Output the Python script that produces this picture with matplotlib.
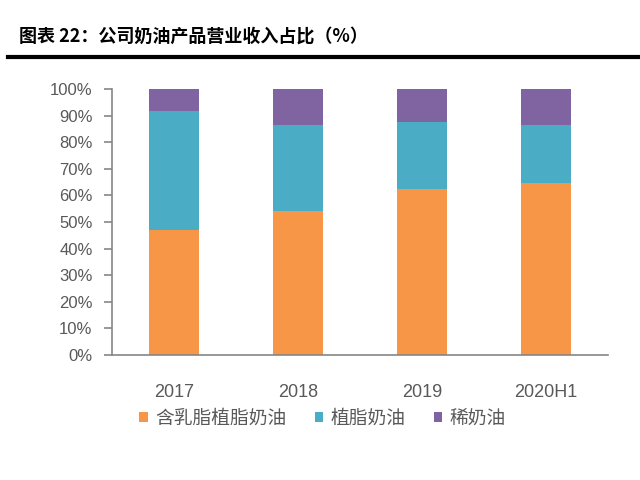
"""Stacked share of cream product revenue, 2017-2020H1."""
import matplotlib
matplotlib.use("Agg")
import matplotlib.pyplot as plt
import numpy as np

plt.rcParams["font.family"] = ["Noto Sans CJK SC", "DejaVu Sans"]

years = ["2017", "2018", "2019", "2020H1"]
series_names = ["含乳脂植脂奶油", "植脂奶油", "稀奶油"]
dairy_blend = [47.0, 54.0, 62.5, 64.8]
plant_cream = [44.9, 32.5, 25.2, 21.7]
fresh_cream = [8.1, 13.5, 12.3, 13.5]
colors = ["#F79646", "#4BACC6", "#8064A2"]


def main():
    fig = plt.figure(figsize=(6.4, 4.8), dpi=100)
    ax = fig.add_axes([0.175, 0.2604, 0.775, 0.5542])

    x = np.arange(len(years))
    bottom = np.zeros(len(years))
    for vals, name, color in zip([dairy_blend, plant_cream, fresh_cream], series_names, colors):
        ax.bar(x, vals, width=0.4, bottom=bottom, color=color, label=name, zorder=2)
        bottom += np.array(vals)

    ax.set_xlim(-0.5, len(years) - 0.5)
    ax.set_ylim(0, 100)
    ax.set_yticks(np.arange(0, 101, 10))
    ax.set_yticklabels([f"{v}%" for v in range(0, 101, 10)],
                       family="Liberation Sans", fontsize=12, color="#595959")
    ax.set_xticks(x)
    ax.set_xticklabels(years, family="Liberation Sans", fontsize=13, color="#595959")
    ax.tick_params(axis="x", length=0, pad=21)
    ax.tick_params(axis="y", length=6, width=1.2, color="#868686", pad=8)
    for side in ["top", "right"]:
        ax.spines[side].set_visible(False)
    ax.spines["left"].set_color("#868686")
    ax.spines["left"].set_linewidth(1.2)
    ax.spines["bottom"].set_color("#868686")
    ax.spines["bottom"].set_linewidth(1.2)

    ax.legend(loc="upper left", bbox_to_anchor=(0.04, -0.17), ncol=3, frameon=False,
              fontsize=13.5, handlelength=0.45, handleheight=0.45, handletextpad=0.4,
              columnspacing=1.5, labelcolor="#595959", borderaxespad=0)

    fig.text(0.03, 0.925, "图表 22：公司奶油产品营业收入占比（%）", fontsize=13,
             fontweight="bold", va="center", ha="left")
    fig.add_artist(plt.Line2D([0.012, 1.0], [0.881, 0.881], color="black", lw=3,
                              transform=fig.transFigure))

    fig.savefig("out.png", dpi=100)


if __name__ == "__main__":
    main()
